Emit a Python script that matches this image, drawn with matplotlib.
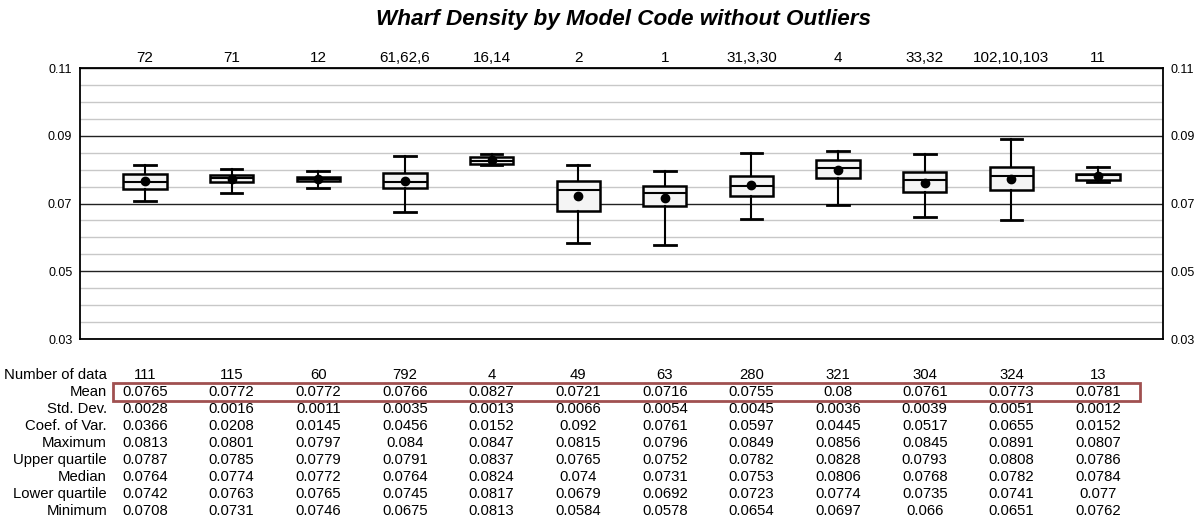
import numpy as np
import matplotlib
matplotlib.use("Agg")
import matplotlib.pyplot as plt
from matplotlib.patches import Rectangle
import matplotlib.transforms as mtransforms

plt.rcParams['font.family'] = ['Liberation Sans', 'DejaVu Sans']

codes = ["72", "71", "12", "61,62,6", "16,14", "2", "1", "31,3,30", "4", "33,32", "102,10,103", "11"]
n_data = [111, 115, 60, 792, 4, 49, 63, 280, 321, 304, 324, 13]
means = [0.0765, 0.0772, 0.0772, 0.0766, 0.0827, 0.0721, 0.0716, 0.0755, 0.08, 0.0761, 0.0773, 0.0781]
std_dev = [0.0028, 0.0016, 0.0011, 0.0035, 0.0013, 0.0066, 0.0054, 0.0045, 0.0036, 0.0039, 0.0051, 0.0012]
coef_var = [0.0366, 0.0208, 0.0145, 0.0456, 0.0152, 0.092, 0.0761, 0.0597, 0.0445, 0.0517, 0.0655, 0.0152]
maximum = [0.0813, 0.0801, 0.0797, 0.084, 0.0847, 0.0815, 0.0796, 0.0849, 0.0856, 0.0845, 0.0891, 0.0807]
upper_q = [0.0787, 0.0785, 0.0779, 0.0791, 0.0837, 0.0765, 0.0752, 0.0782, 0.0828, 0.0793, 0.0808, 0.0786]
medians = [0.0764, 0.0774, 0.0772, 0.0764, 0.0824, 0.074, 0.0731, 0.0753, 0.0806, 0.0768, 0.0782, 0.0784]
lower_q = [0.0742, 0.0763, 0.0765, 0.0745, 0.0817, 0.0679, 0.0692, 0.0723, 0.0774, 0.0735, 0.0741, 0.077]
minimum = [0.0708, 0.0731, 0.0746, 0.0675, 0.0813, 0.0584, 0.0578, 0.0654, 0.0697, 0.066, 0.0651, 0.0762]

row_names = ["Number of data", "Mean", "Std. Dev.", "Coef. of Var.", "Maximum",
             "Upper quartile", "Median", "Lower quartile", "Minimum"]
rows = [n_data, means, std_dev, coef_var, maximum, upper_q, medians, lower_q, minimum]

W, H = 1199, 523
fig = plt.figure(figsize=(W / 100, H / 100), dpi=100)
ax = fig.add_axes([80 / W, 1 - 339 / H, (1163 - 80) / W, (339 - 68) / H])

pos = np.arange(len(codes))
stats = []
for i in range(len(codes)):
    stats.append(dict(med=medians[i], q1=lower_q[i], q3=upper_q[i],
                      whislo=minimum[i], whishi=maximum[i], mean=means[i], fliers=[]))

ax.bxp(stats, positions=pos, widths=0.5, patch_artist=True, showmeans=True,
       boxprops=dict(facecolor="#f4f4f4", edgecolor="black", linewidth=1.8),
       medianprops=dict(color="black", linewidth=1.5),
       whiskerprops=dict(color="black", linewidth=1.5),
       capprops=dict(color="black", linewidth=2),
       capwidths=0.25,
       meanprops=dict(marker="o", markerfacecolor="black", markeredgecolor="black", markersize=6),
       zorder=3)

ax.set_xlim(-0.75, len(codes) - 0.25)
ax.set_ylim(0.03, 0.11)
ax.set_yticks([0.03, 0.05, 0.07, 0.09, 0.11])
ax.set_yticklabels(["0.03", "0.05", "0.07", "0.09", "0.11"])
ax.set_yticks(np.arange(0.035, 0.11, 0.005), minor=True)
ax.grid(axis="y", which="minor", color="#c8c8c8", linewidth=1)
ax.grid(axis="y", which="major", color="#222222", linewidth=1)
ax.set_axisbelow(True)
ax.tick_params(axis="y", which="both", length=0, labelsize=9, right=True, labelright=True, pad=5.5)
ax.tick_params(axis="x", length=0, labelbottom=False, labeltop=True, labelsize=11, pad=2)
ax.set_xticks(pos)
ax.set_xticklabels(codes)
for s in ax.spines.values():
    s.set_linewidth(1.3)

fig.text(623 / W, 1 - 19 / H, "Wharf Density by Model Code without Outliers",
         ha="center", va="center", fontsize=16.2, fontweight="bold", fontstyle="italic")

# statistics table under the plot
trans = mtransforms.blended_transform_factory(ax.transData, fig.transFigure)
for r, (name, vals) in enumerate(zip(row_names, rows)):
    y = 1 - (375 + 17 * r) / H
    fig.text(107 / W, y, name, ha="right", va="center", fontsize=10.7)
    for i, v in enumerate(vals):
        txt = str(v) if r == 0 else f"{v:g}"
        fig.text(pos[i], y, txt, ha="center", va="center", fontsize=10.7, transform=trans)

fig.patches.append(Rectangle((113 / W, 1 - 401 / H), (1140 - 113) / W, 18 / H,
                             transform=fig.transFigure, fill=False,
                             edgecolor="#a05050", linewidth=2))

fig.savefig("out.png", dpi=100)
